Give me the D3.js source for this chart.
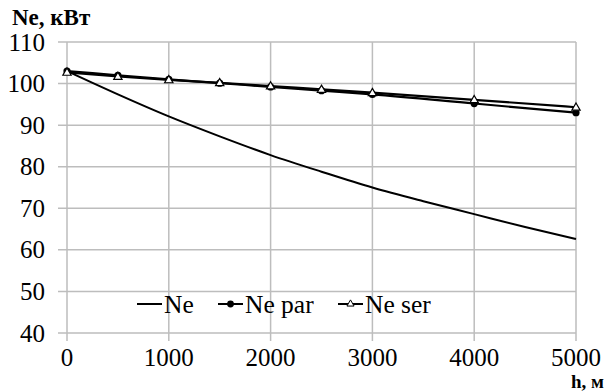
<!DOCTYPE html>
<html><head><meta charset="utf-8">
<script src="https://cdn.jsdelivr.net/npm/d3@7"></script>
<style>body{margin:0;background:#fff}svg{display:block}text{font-family:"Liberation Serif","Times New Roman",serif}</style>
</head><body><svg id="c" width="606" height="392"></svg>
<script>
const heights = [0,500,1000,1500,2000,2500,3000,3500,4000,4500,5000];
const neValues = [103,97.4,92.1,87.3,82.8,78.8,75.0,71.7,68.6,65.5,62.6];
const markerHeights = [0,500,1000,1500,2000,2500,3000,4000,5000];
const neParValues = [103.0,102.0,101.0,100.1,99.2,98.3,97.4,95.2,93.0];
const neSerValues = [102.7,101.7,100.9,100.2,99.4,98.6,97.8,96.1,94.3];
const xTicks = [0,1000,2000,3000,4000,5000];
const yTicks = [40,50,60,70,80,90,100,110];
const yTitle = "Ne, кВт";
const xTitle = "h, м";
const legendLabels = ["Ne","Ne par","Ne ser"];

const svg = d3.select("#c");
const x = d3.scaleLinear().domain([0,5000]).range([67,576]);
const y = d3.scaleLinear().domain([40,110]).range([333,42]);
const grid = "#bdbdbd";

svg.append("g").selectAll("line").data(yTicks).join("line")
  .attr("x1",58).attr("x2",x(5000)).attr("y1",d=>y(d)).attr("y2",d=>y(d))
  .attr("stroke",grid).attr("stroke-width",1.5);
svg.append("g").selectAll("line").data(xTicks).join("line")
  .attr("x1",d=>x(d)).attr("x2",d=>x(d)).attr("y1",y(110)).attr("y2",341)
  .attr("stroke",grid).attr("stroke-width",1.5);

svg.append("g").selectAll("text").data(yTicks).join("text")
  .attr("x",45).attr("y",d=>y(d)).attr("dy","0.34em").attr("text-anchor","end")
  .attr("font-size",25).text(d=>d);
svg.append("g").selectAll("text").data(xTicks).join("text")
  .attr("x",d=>x(d)).attr("y",365.5).attr("text-anchor","middle")
  .attr("font-size",25).text(d=>d);

svg.append("text").attr("x",12).attr("y",25).attr("font-size",23).attr("font-weight","bold").text(yTitle);
svg.append("text").attr("x",604).attr("y",388).attr("text-anchor","end").attr("font-size",19).attr("font-weight","bold").text(xTitle);

const lineNe = d3.line().x((d,i)=>x(heights[i])).y(d=>y(d)).curve(d3.curveMonotoneX);
svg.append("path").datum(neValues).attr("d",lineNe).attr("fill","none").attr("stroke","#000").attr("stroke-width",2);
const lineM = d3.line().x((d,i)=>x(markerHeights[i])).y(d=>y(d)).curve(d3.curveMonotoneX);
svg.append("path").datum(neParValues).attr("d",lineM).attr("fill","none").attr("stroke","#000").attr("stroke-width",2.2);
svg.append("path").datum(neSerValues).attr("d",lineM).attr("fill","none").attr("stroke","#000").attr("stroke-width",2.2);

const tri = d3.symbol().type(d3.symbolTriangle).size(30);
svg.append("g").selectAll("circle").data(neParValues).join("circle")
  .attr("cx",(d,i)=>x(markerHeights[i])).attr("cy",d=>y(d)).attr("r",3.6).attr("fill","#000");
svg.append("g").selectAll("path").data(neSerValues).join("path")
  .attr("d",tri).attr("transform",(d,i)=>`translate(${x(markerHeights[i])},${y(d)+0.5})`)
  .attr("fill","#fff").attr("stroke","#000").attr("stroke-width",1.2);

const ly = 304;
const lg = svg.append("g");
const items = [{x:137,label:legendLabels[0],m:null},{x:218,label:legendLabels[1],m:"dot"},{x:338,label:legendLabels[2],m:"tri"}];
items.forEach(it=>{
  lg.append("line").attr("x1",it.x).attr("x2",it.x+25).attr("y1",ly).attr("y2",ly).attr("stroke","#000").attr("stroke-width",2);
  if(it.m==="dot") lg.append("circle").attr("cx",it.x+12.5).attr("cy",ly).attr("r",3.4).attr("fill","#000");
  if(it.m==="tri") lg.append("path").attr("d",d3.symbol().type(d3.symbolTriangle).size(22)).attr("transform",`translate(${it.x+12.5},${ly})`).attr("fill","#fff").attr("stroke","#000").attr("stroke-width",1);
  lg.append("text").attr("x",it.x+27).attr("y",ly).attr("dy","0.34em").attr("font-size",25.5).text(it.label);
});
</script></body></html>
